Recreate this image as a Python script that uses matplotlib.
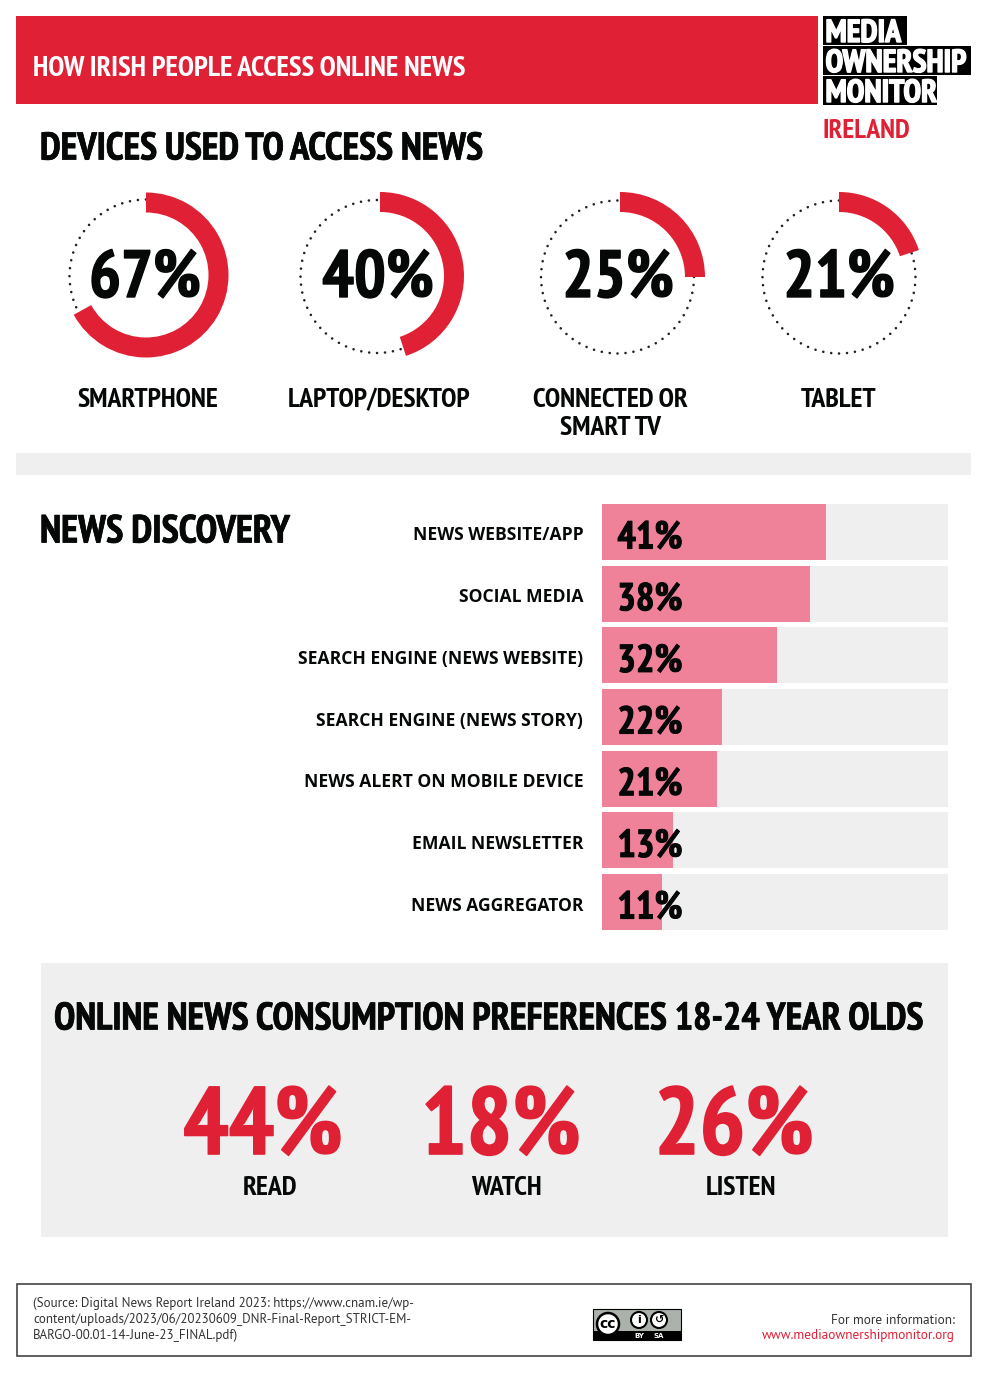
"""
Irish online news access infographic, rebuilt with matplotlib
"""
import matplotlib

matplotlib.use("Agg")
import matplotlib.pyplot as plt
from matplotlib.patches import Circle, Rectangle
from matplotlib.patheffects import withStroke
from matplotlib.transforms import ScaledTranslation

# Data
device_labels = ["SMARTPHONE", "LAPTOP/DESKTOP", "CONNECTED OR\nSMART TV", "TABLET"]
device_values = [67, 40, 25, 21]
# sweep of each ring as drawn in the source graphic, it does not always match its label
device_arcs = [67, 45, 25, 20]

discovery_labels = [
    "NEWS WEBSITE/APP",
    "SOCIAL MEDIA",
    "SEARCH ENGINE (NEWS WEBSITE)",
    "SEARCH ENGINE (NEWS STORY)",
    "NEWS ALERT ON MOBILE DEVICE",
    "EMAIL NEWSLETTER",
    "NEWS AGGREGATOR",
]
discovery_values = [41, 38, 32, 22, 21, 13, 11]

preference_labels = ["READ", "WATCH", "LISTEN"]
preference_values = [44, 18, 26]

source_lines = [
    "(Source: Digital News Report Ireland 2023: https://www.cnam.ie/wp-",
    "content/uploads/2023/06/20230609_DNR-Final-Report_STRICT-EM-",
    "BARGO-00.01-14-June-23_FINAL.pdf)",
]

W, H = 988, 1373
RED = "#DF2035"
PINK = "#EF8199"
GREY = "#EFEFEF"
BLACK = "#060808"

NARROW = ["PT Sans Narrow", "Roboto Condensed", "Open Sans"]
BODY = ["PT Sans", "Open Sans"]
LABEL = ["Open Sans"]
plt.rcParams["font.family"] = NARROW


def heavy(color, width=0.7):
    """Thicken a glyph a little, the source font is heavier than ours"""
    return [withStroke(linewidth=width, foreground=color)]


def px_axes(fig, left, top, right, bottom):
    """Axes placed with pixel bounds, top-left origin"""
    return fig.add_axes(
        [left / W, 1 - bottom / H, (right - left) / W, (bottom - top) / H]
    )


def draw_donut(fig, value, cx, cy, dot_cx, dot_cy, r, dot_r=76.5):
    box = r + 6
    ax = px_axes(fig, cx - box, cy - box, cx + box, cy + box)
    ax.add_patch(
        Circle(
            (dot_cx - cx, cy - dot_cy),
            dot_r,
            fill=False,
            edgecolor="#222222",
            linewidth=1.9,
            linestyle=(0, (0.01, 3.027)),
            capstyle="round",
        )
    )
    ax.pie(
        [value, 100 - value],
        colors=[RED, "none"],
        radius=r,
        startangle=90,
        counterclock=False,
        wedgeprops={"width": 20, "linewidth": 0},
    )
    ax.set_xlim(-box, box)
    ax.set_ylim(-box, box)
    ax.axis("off")


fig = plt.figure(figsize=(W / 100, H / 100), dpi=100, facecolor="white")

# Page background, pixel coordinates
page = fig.add_axes([0, 0, 1, 1])
page.set_xlim(0, W)
page.set_ylim(H, 0)
page.axis("off")

# Header
page.add_patch(Rectangle((16, 16), 802, 88, color=RED, lw=0))
page.text(33, 69, "HOW IRISH PEOPLE ACCESS ONLINE NEWS", color="white",
          fontsize=20.8, fontweight="bold", va="center")

for word, top, right in [("MEDIA", 16, 907), ("OWNERSHIP", 46, 971), ("MONITOR", 76, 937)]:
    page.add_patch(Rectangle((823, top), right - 823, 29, color="black", lw=0))
    page.text(825.5, top + 18, word, color="white", fontsize=23, fontweight="bold",
              va="center", path_effects=heavy("white", 1.0))
page.text(822, 131, "IRELAND", color=RED, fontsize=19.8, fontweight="bold", va="center")

# Devices
page.text(40, 150, "DEVICES USED TO ACCESS NEWS", color=BLACK, fontsize=27.8,
          fontweight="bold", va="center", path_effects=heavy(BLACK, 0.5))

donut_cx = [146, 380, 620, 839]
donut_cy = [275, 276, 277, 276]
donut_r = [82.5, 84, 85, 84]
dot_cx = [146, 377, 617.5, 839]
dot_cy = [276, 276.5, 277, 277]
value_cx = [145, 378, 618, 839]
label_cx = [148, 379, 610, 839]
for i, value in enumerate(device_arcs):
    draw_donut(fig, value, donut_cx[i], donut_cy[i], dot_cx[i], dot_cy[i], donut_r[i])

# Overlay for text above the donuts
overlay = fig.add_axes([0, 0, 1, 1], facecolor="none")
overlay.set_xlim(0, W)
overlay.set_ylim(H, 0)
overlay.axis("off")
for i, value in enumerate(device_values):
    overlay.text(value_cx[i], 280, f"{value}%", color=BLACK, fontsize=48,
                 fontweight="bold", ha="center", va="center",
                 path_effects=heavy(BLACK, 1.0))
    overlay.text(label_cx[i], 388, device_labels[i], color=BLACK, fontsize=20,
                 fontweight="bold", ha="center", va="top", linespacing=1.22)

page.add_patch(Rectangle((16, 453), 955, 22, color=GREY, lw=0))

# News discovery
page.text(40, 533, "NEWS DISCOVERY", color=BLACK, fontsize=28.2, fontweight="bold",
          va="center", path_effects=heavy(BLACK, 0.5))

bars = px_axes(fig, 602, 504, 948, 930)
positions = list(range(len(discovery_values)))
track_end = 346 / 5.47
bars.barh(positions, [track_end] * len(positions), height=0.908, color=GREY)
bars.barh(positions, discovery_values, height=0.908, color=PINK)
for pos, value in zip(positions, discovery_values):
    bars.text(2.8, pos + 0.115, f"{value}%", color=BLACK, fontsize=28, fontweight="bold",
              va="center", path_effects=heavy(BLACK, 0.7))
bars.set_xlim(0, track_end)
bars.set_ylim(6.454, -0.454)
bars.set_xticks([])
bars.set_yticks(positions)
bars.set_yticklabels(discovery_labels, fontsize=12.6, fontweight="bold",
                     family=LABEL, color=BLACK)
bars.tick_params(axis="y", length=0, pad=13.5)
nudge = ScaledTranslation(0, -1.5 / 100, fig.dpi_scale_trans)
for tick_label in bars.get_yticklabels():
    tick_label.set_transform(tick_label.get_transform() + nudge)
for side in bars.spines.values():
    side.set_visible(False)
bars.patch.set_alpha(0)

# Preferences panel
page.add_patch(Rectangle((41, 963), 907, 274, color=GREY, lw=0))
page.text(54, 1020, "ONLINE NEWS CONSUMPTION PREFERENCES 18-24 YEAR OLDS",
          color=BLACK, fontsize=27.7, fontweight="bold", va="center",
          path_effects=heavy(BLACK, 0.5))

pref_value_cx = [263, 501, 734]
pref_label_cx = [270, 506, 741]
for i, value in enumerate(preference_values):
    page.text(pref_value_cx[i], 1130, f"{value}%", color=RED, fontsize=68.5,
              fontweight="bold", ha="center", va="center",
              path_effects=heavy(RED, 1.2))
    page.text(pref_label_cx[i], 1188, preference_labels[i], color=BLACK, fontsize=20,
              fontweight="bold", ha="center", va="center")

# Footer
page.add_patch(Rectangle((16.5, 1283.5), 954, 72, facecolor="white", edgecolor="#444444",
                         lw=1.2))
for i, line in enumerate(source_lines):
    page.text(33, 1303.5 + i * 16.2, line, color="#333333", fontsize=9.4,
              family=BODY, va="center")
page.text(955, 1320, "For more information:", color="#333333", fontsize=9.5,
          family=BODY, ha="right", va="center")
page.text(955, 1336, "www.mediaownershipmonitor.org", color=RED, fontsize=9.6,
          family=BODY, ha="right", va="center")

# Creative Commons badge
page.add_patch(Rectangle((593, 1309), 88, 31, facecolor="#AAB2AB", edgecolor="black", lw=0.8))
page.add_patch(Rectangle((593, 1331), 88, 9, color="black", lw=0))
page.add_patch(Circle((608, 1324), 11, facecolor="white", edgecolor="black", lw=1.8))
page.text(608, 1324, "cc", color="black", fontsize=10, fontweight="bold", ha="center",
          va="center", family=["DejaVu Sans"])
for cx, glyph in [(639, "i"), (659, "\u21ba")]:
    page.add_patch(Circle((cx, 1320), 8, facecolor="white", edgecolor="black", lw=1.5))
    page.text(cx, 1320, glyph, color="black", fontsize=8, fontweight="bold", ha="center",
              va="center", family=["DejaVu Sans"])
page.text(639, 1336, "BY", color="white", fontsize=5, fontweight="bold", ha="center",
          va="center", family=["DejaVu Sans"])
page.text(659, 1336, "SA", color="white", fontsize=5, fontweight="bold", ha="center",
          va="center", family=["DejaVu Sans"])

fig.savefig("out.png", dpi=100, facecolor="white")
